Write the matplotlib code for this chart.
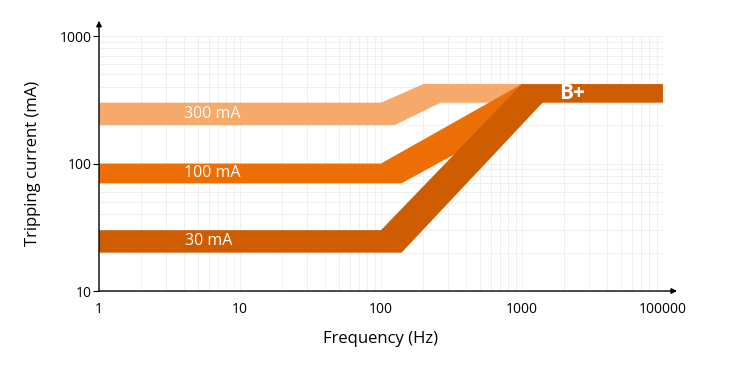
import matplotlib.pyplot as plt
from matplotlib.ticker import LogLocator, NullFormatter

plt.rcParams['font.family'] = ['Open Sans', 'DejaVu Sans']

# x tick positions (decades) and their labels as printed on the chart
x_ticks = [1, 10, 100, 1000, 10000]
x_labels = ['1', '10', '100', '1000', '100000']
y_ticks = [10, 100, 1000]

# band edges: (frequency, current) for upper and lower edge
b300_up_f = [1, 100, 200, 1000]
b300_up_i = [300, 300, 420, 420]
b300_lo_f = [1, 125, 265, 1000]
b300_lo_i = [200, 200, 300, 300]

b100_up_f = [1, 100, 1000]
b100_up_i = [100, 100, 420]
b100_lo_f = [1, 140, 1000]
b100_lo_i = [70, 70, 230]

b30_up_f = [1, 100, 1000, 10000]
b30_up_i = [30, 30, 420, 420]
b30_lo_f = [1, 140, 1400, 10000]
b30_lo_i = [20, 20, 300, 300]

bands = [
    (b300_up_f, b300_up_i, b300_lo_f, b300_lo_i, '#F5A96B', '300 mA', 6.4, 245),
    (b100_up_f, b100_up_i, b100_lo_f, b100_lo_i, '#EE6E06', '100 mA', 6.4, 85),
    (b30_up_f, b30_up_i, b30_lo_f, b30_lo_i, '#CE5C00', '30 mA', 6.0, 24.5),
]

fig = plt.figure(figsize=(7.35, 3.72), dpi=100)
ax = fig.add_axes([0.1347, 0.2177, 0.7673, 0.6855])
ax.set_xscale('log')
ax.set_yscale('log')
ax.set_xlim(1, 10000)
ax.set_ylim(10, 1000)

for up_f, up_i, lo_f, lo_i, color, label, lx, ly in bands:
    xs = up_f + lo_f[::-1]
    ys = up_i + lo_i[::-1]
    ax.fill(xs, ys, color=color, lw=0, zorder=2)
    ax.text(lx, ly, label, color='white', fontsize=11.5, fontweight='medium',
            ha='center', va='center', zorder=3)

ax.text(2260, 357, 'B+', color='white', fontsize=15, fontweight='bold',
        ha='center', va='center', zorder=3)

ax.xaxis.set_minor_locator(LogLocator(base=10, subs=range(2, 10)))
ax.yaxis.set_minor_locator(LogLocator(base=10, subs=range(2, 10)))
ax.xaxis.set_minor_formatter(NullFormatter())
ax.yaxis.set_minor_formatter(NullFormatter())
ax.grid(True, which='both', color='#efefef', lw=0.7, zorder=0)
ax.set_axisbelow(True)

ax.set_xticks(x_ticks, labels=x_labels)
ax.set_yticks(y_ticks, labels=[str(v) for v in y_ticks])
ax.tick_params(axis='both', which='minor', length=0)
ax.tick_params(axis='x', which='major', length=0, pad=8, labelsize=10)
ax.tick_params(axis='y', which='major', length=4, width=0.8, pad=1,
               labelsize=10)

for s in ax.spines.values():
    s.set_visible(False)

ax.annotate('', xy=(0, 1.06), xytext=(0, 0), xycoords='axes fraction',
            arrowprops=dict(arrowstyle='-|>', color='black', lw=1,
                            mutation_scale=8, shrinkA=0, shrinkB=0),
            annotation_clip=False)
ax.annotate('', xy=(1.025, 0), xytext=(0, 0), xycoords='axes fraction',
            arrowprops=dict(arrowstyle='-|>', color='black', lw=1,
                            mutation_scale=8, shrinkA=0, shrinkB=0),
            annotation_clip=False)

ax.set_xlabel('Frequency (Hz)', fontsize=12, labelpad=10)
ax.set_ylabel('Tripping current (mA)', fontsize=12, labelpad=14)

fig.savefig('out.png', dpi=100)
